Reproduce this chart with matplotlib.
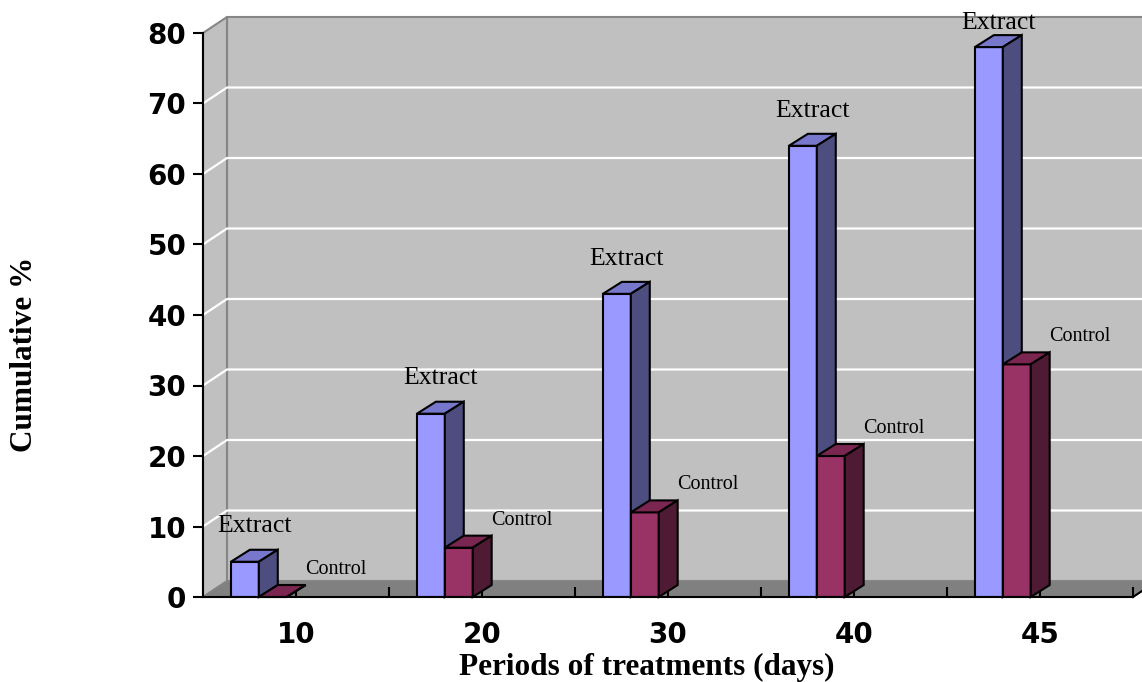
import numpy as np
import matplotlib
matplotlib.use("Agg")
import matplotlib.pyplot as plt
from matplotlib.patches import Polygon

# data
periods = ["10", "20", "30", "40", "45"]
extract = [5, 26, 43, 64, 78]
control = [0, 7, 12, 20, 33]
y_ticks = [0, 10, 20, 30, 40, 50, 60, 70, 80]

# pseudo 3D geometry (category units on x, percent on y)
wall_dx, wall_dy = 0.129, 2.27     # depth of the back wall
bar_dx, bar_dy = 0.102, 1.7        # depth of a column
bar_w = 0.15
bar_off = 0.15

ext_cols = ("#9999ff", "#7777cc", "#4d4d80")   # front, top, side
con_cols = ("#993366", "#7a2650", "#4f1a33")

fig = plt.figure(figsize=(11.42, 6.82), dpi=100)
ax = fig.add_axes([203 / 1142, 85 / 682, 930 / 1142, 564 / 682])
ax.set_xlim(0, 5)
ax.set_ylim(0, 80)
ax.patch.set_visible(False)

n = len(periods)
wall_c = "#c0c0c0"
edge_c = "#868686"

# back wall, side wall and floor
ax.add_patch(Polygon([(wall_dx, wall_dy), (n + wall_dx, wall_dy), (n + wall_dx, 80 + wall_dy),
                      (wall_dx, 80 + wall_dy)], closed=True, fc=wall_c, ec=edge_c, lw=1.5,
                     clip_on=False, zorder=0))
ax.add_patch(Polygon([(0, 0), (wall_dx, wall_dy), (wall_dx, 80 + wall_dy), (0, 80)], closed=True,
                     fc=wall_c, ec=edge_c, lw=1.5, clip_on=False, zorder=0))
for v in y_ticks[1:-1]:
    ax.plot([0, wall_dx, n + wall_dx], [v, v + wall_dy, v + wall_dy], color="white", lw=1.6,
            clip_on=False, zorder=0.5)
ax.add_patch(Polygon([(0, 0), (n, 0), (n + wall_dx, wall_dy), (wall_dx, wall_dy)], closed=True,
                     fc="#808080", ec=edge_c, lw=1, clip_on=False, zorder=0.6))
ax.plot([n, n + wall_dx], [0, wall_dy], color="black", lw=1.5, clip_on=False, zorder=3)


def column(x0, v, cols):
    x1 = x0 + bar_w
    ax.bar(x0, v, width=bar_w, align="edge", color=cols[0], edgecolor="black", lw=1.5, zorder=2)
    ax.add_patch(Polygon([(x0, v), (x0 + bar_dx, v + bar_dy), (x1 + bar_dx, v + bar_dy), (x1, v)],
                         closed=True, fc=cols[1], ec="black", lw=1.5, clip_on=False, zorder=2))
    ax.add_patch(Polygon([(x1, 0), (x1 + bar_dx, bar_dy), (x1 + bar_dx, v + bar_dy), (x1, v)],
                         closed=True, fc=cols[2], ec="black", lw=1.5, clip_on=False, zorder=2))


for i in range(n):
    column(i + bar_off, extract[i], ext_cols)
    column(i + bar_off + bar_w, control[i], con_cols)
    ax.text(i + bar_off + bar_w / 2 + 0.05, min(extract[i] + 5.0, 81.4), "Extract",
            family="Liberation Serif", fontsize=18.5, ha="center", va="center", zorder=4)
    ax.text(i + bar_off + 1.5 * bar_w + 0.34, control[i] + 3.9, "Control",
            family="Liberation Serif", fontsize=14.5, ha="center", va="center", zorder=4)

# axes
for s in ("top", "right"):
    ax.spines[s].set_visible(False)
for s in ("left", "bottom"):
    ax.spines[s].set_linewidth(1.5)
    ax.spines[s].set_zorder(3)
ax.set_yticks(y_ticks)
ax.set_yticklabels([str(v) for v in y_ticks], fontsize=20, fontweight="bold",
                   family="DejaVu Sans")
ax.tick_params(axis="y", direction="out", length=7, width=1.5, pad=5)
ax.set_xticks(np.arange(n) + 0.5)
ax.set_xticks(np.arange(1, n + 1), minor=True)
ax.set_xticklabels(periods, fontsize=20, fontweight="bold", family="DejaVu Sans")
ax.tick_params(axis="x", which="both", direction="in", length=7, width=1.5, pad=17)

fig.text(647 / 1142, 1 - 667 / 682, "Periods of treatments (days)", family="Liberation Serif",
         fontweight="bold", fontsize=22.5, ha="center", va="center")
fig.text(25 / 1142, 1 - 354 / 682, "Cumulative %", family="Liberation Serif",
         fontweight="bold", fontsize=22.5, rotation=90, ha="center", va="center")

fig.savefig("out.png", dpi=100, facecolor="white")
